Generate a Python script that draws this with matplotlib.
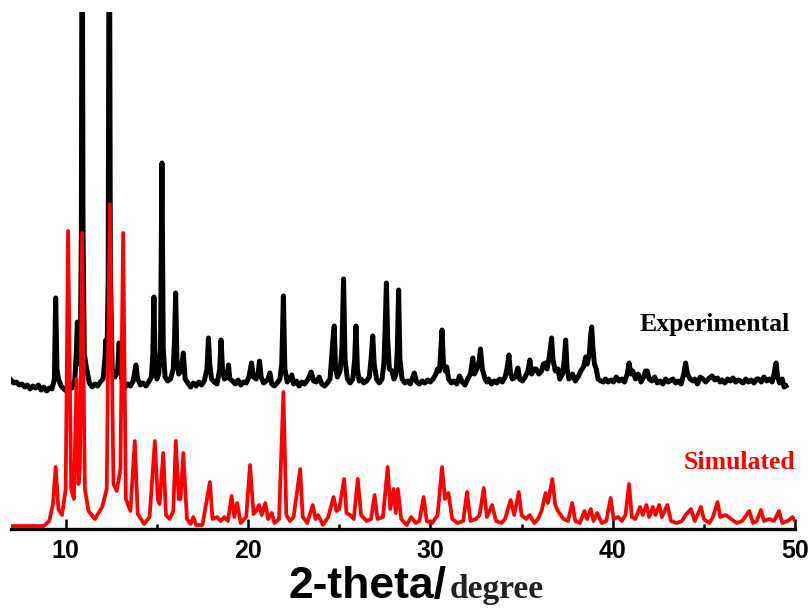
import numpy as np
import matplotlib.pyplot as plt
from matplotlib.ticker import MultipleLocator

# XRD pattern, experimental vs simulated
# intensities in arbitrary units (2-theta, counts)

exp_points = [
    (7.0, 149), (7.15, 146), (7.3, 147), (7.45, 144), (7.6, 145), (7.75, 142), (7.9, 144),
    (8.05, 140), (8.2, 143), (8.35, 141), (8.5, 144), (8.65, 139), (8.8, 142), (8.95, 138),
    (9.1, 141), (9.25, 140), (9.38, 150), (9.45, 231), (9.52, 160), (9.6, 150), (9.75, 143),
    (9.9, 140), (10.05, 138), (10.2, 143), (10.35, 141), (10.5, 150), (10.58, 175), (10.64, 207),
    (10.7, 165), (10.8, 170), (10.86, 300), (10.90, 700), (10.95, 300), (11.02, 175), (11.15, 160),
    (11.3, 146), (11.45, 142), (11.6, 145), (11.75, 143), (11.9, 147), (12.05, 150), (12.15, 170),
    (12.2, 189), (12.27, 175), (12.33, 250), (12.39, 700), (12.45, 260), (12.55, 160), (12.7, 152),
    (12.85, 158), (12.93, 186), (13.0, 160), (13.1, 148), (13.25, 142), (13.4, 145), (13.55, 143),
    (13.7, 148), (13.85, 164), (13.95, 150), (14.1, 144), (14.25, 146), (14.4, 143), (14.55, 147),
    (14.7, 152), (14.78, 175), (14.84, 232), (14.9, 170), (15.0, 150), (15.1, 155), (15.2, 180),
    (15.28, 366), (15.35, 180), (15.45, 152), (15.6, 148), (15.75, 150), (15.9, 160), (15.97, 190),
    (16.03, 236), (16.1, 170), (16.2, 155), (16.35, 160), (16.45, 176), (16.55, 150), (16.7, 146),
    (16.85, 142), (17.0, 146), (17.15, 143), (17.3, 147), (17.45, 144), (17.6, 148), (17.75, 160),
    (17.83, 191), (17.9, 165), (18.0, 150), (18.15, 147), (18.3, 145), (18.45, 160), (18.52, 189),
    (18.6, 160), (18.7, 150), (18.85, 152), (18.93, 164), (19.0, 150), (19.15, 148), (19.3, 145),
    (19.45, 149), (19.6, 144), (19.75, 147), (19.9, 146), (20.05, 152), (20.19, 166), (20.3, 152),
    (20.45, 150), (20.55, 155), (20.63, 168), (20.72, 152), (20.85, 146), (21.0, 148), (21.1, 150),
    (21.2, 156), (21.3, 145), (21.45, 143), (21.6, 146), (21.75, 150), (21.85, 165), (21.94, 233),
    (22.02, 160), (22.15, 147), (22.3, 150), (22.4, 154), (22.5, 145), (22.65, 148), (22.8, 143),
    (22.95, 147), (23.1, 145), (23.3, 150), (23.46, 157), (23.6, 148), (23.75, 147), (23.9, 152),
    (24.05, 145), (24.2, 143), (24.35, 146), (24.5, 150), (24.6, 175), (24.68, 195), (24.73, 203),
    (24.8, 160), (24.9, 152), (25.05, 158), (25.15, 180), (25.24, 250), (25.32, 170), (25.45, 150),
    (25.6, 146), (25.75, 150), (25.85, 170), (25.92, 203), (26.0, 160), (26.1, 148), (26.2, 150),
    (26.35, 146), (26.5, 148), (26.65, 152), (26.75, 170), (26.84, 193), (26.92, 165), (27.05, 150),
    (27.2, 146), (27.35, 150), (27.45, 165), (27.52, 200), (27.59, 246), (27.66, 190), (27.75, 160),
    (27.9, 158), (28.0, 150), (28.12, 155), (28.19, 180), (28.26, 239), (28.33, 170), (28.45, 150),
    (28.6, 146), (28.75, 148), (28.9, 145), (29.0, 150), (29.12, 156), (29.25, 147), (29.4, 145),
    (29.55, 148), (29.7, 146), (29.85, 149), (30.0, 147), (30.15, 150), (30.3, 155), (30.4, 160),
    (30.5, 158), (30.58, 180), (30.64, 199), (30.72, 165), (30.82, 158), (30.9, 162), (31.0, 150),
    (31.15, 146), (31.3, 148), (31.45, 145), (31.6, 153), (31.75, 147), (31.9, 144), (32.05, 150),
    (32.2, 155), (32.33, 171), (32.42, 155), (32.55, 160), (32.68, 168), (32.75, 180), (32.85, 160),
    (33.0, 150), (33.1, 147), (33.2, 150), (33.35, 145), (33.5, 148), (33.65, 146), (33.8, 150),
    (33.95, 147), (34.1, 152), (34.2, 160), (34.31, 174), (34.4, 155), (34.5, 150), (34.65, 152),
    (34.8, 161), (34.9, 150), (35.05, 148), (35.2, 152), (35.35, 158), (35.46, 169), (35.55, 155),
    (35.7, 160), (35.8, 160), (35.95, 155), (36.1, 158), (36.2, 165), (36.3, 166), (36.4, 160),
    (36.5, 170), (36.58, 180), (36.65, 191), (36.72, 170), (36.85, 158), (37.0, 160), (37.1, 150),
    (37.25, 155), (37.35, 170), (37.42, 189), (37.5, 160), (37.6, 150), (37.7, 152), (37.8, 155),
    (37.95, 148), (38.1, 152), (38.25, 158), (38.4, 162), (38.52, 172), (38.6, 165), (38.72, 175),
    (38.8, 195), (38.85, 202), (38.92, 180), (39.0, 165), (39.1, 160), (39.2, 150), (39.35, 148),
    (39.5, 147), (39.6, 150), (39.75, 147), (39.9, 149), (40.05, 147), (40.2, 152), (40.35, 148),
    (40.5, 150), (40.65, 147), (40.8, 155), (40.9, 166), (41.0, 155), (41.1, 158), (41.25, 150),
    (41.4, 155), (41.55, 147), (41.7, 152), (41.8, 158), (41.9, 158), (42.0, 150), (42.15, 148),
    (42.3, 152), (42.45, 146), (42.6, 148), (42.75, 145), (42.9, 150), (43.05, 147), (43.2, 149),
    (43.3, 150), (43.45, 146), (43.6, 148), (43.75, 145), (43.9, 155), (44.0, 166), (44.1, 155),
    (44.25, 150), (44.4, 148), (44.5, 150), (44.65, 145), (44.8, 152), (44.95, 150), (45.1, 147),
    (45.3, 151), (45.45, 153), (45.6, 149), (45.75, 151), (45.9, 147), (46.0, 149), (46.15, 146),
    (46.3, 150), (46.45, 148), (46.6, 151), (46.75, 147), (46.9, 149), (47.0, 148), (47.15, 146),
    (47.3, 150), (47.45, 147), (47.6, 149), (47.75, 146), (47.9, 150), (48.0, 150), (48.15, 147),
    (48.3, 152), (48.45, 148), (48.6, 150), (48.75, 147), (48.85, 155), (48.96, 166), (49.05, 152),
    (49.15, 146), (49.3, 150), (49.4, 142), (49.5, 143),
]

sim_points = [
    (7.0, 3), (8.8, 3), (9.1, 8), (9.3, 25), (9.45, 62), (9.6, 20), (9.8, 14), (10.0, 40),
    (10.13, 298), (10.3, 40), (10.45, 30), (10.59, 150), (10.7, 45), (10.78, 60), (10.90, 296),
    (11.05, 40), (11.25, 18), (11.6, 10), (12.0, 22), (12.25, 40), (12.42, 325), (12.62, 45),
    (12.8, 38), (13.0, 60), (13.15, 296), (13.3, 30), (13.55, 18), (13.79, 88), (13.95, 15),
    (14.3, 5), (14.6, 12), (14.89, 88), (15.05, 30), (15.15, 25), (15.35, 76), (15.5, 14),
    (15.7, 10), (15.9, 18), (16.04, 88), (16.2, 30), (16.3, 30), (16.45, 76), (16.65, 10),
    (16.85, 5), (17.0, 12), (17.15, 4), (17.5, 4), (17.91, 47), (18.05, 10), (18.3, 12),
    (18.5, 8), (18.7, 12), (18.9, 8), (19.1, 33), (19.25, 12), (19.4, 26), (19.6, 6),
    (19.9, 12), (20.11, 64), (20.3, 15), (20.45, 18), (20.6, 24), (20.75, 14), (20.95, 26),
    (21.1, 10), (21.3, 16), (21.45, 6), (21.7, 10), (21.94, 137), (22.1, 14), (22.3, 8),
    (22.5, 12), (22.86, 60), (23.0, 12), (23.25, 6), (23.55, 24), (23.7, 10), (23.85, 14),
    (24.1, 4), (24.4, 12), (24.69, 32), (24.85, 18), (25.0, 20), (25.27, 50), (25.4, 16),
    (25.6, 14), (25.8, 10), (26.02, 50), (26.2, 14), (26.5, 8), (26.75, 10), (26.94, 34),
    (27.1, 10), (27.4, 12), (27.66, 62), (27.8, 20), (27.99, 40), (28.1, 16), (28.22, 40),
    (28.4, 10), (28.7, 4), (28.95, 12), (29.2, 6), (29.4, 8), (29.63, 32), (29.8, 8),
    (30.1, 6), (30.4, 14), (30.64, 62), (30.8, 30), (30.99, 36), (31.2, 10), (31.5, 6),
    (31.8, 8), (32.01, 37), (32.2, 8), (32.5, 10), (32.7, 14), (32.93, 41), (33.1, 12),
    (33.39, 24), (33.6, 8), (33.9, 6), (34.1, 10), (34.40, 29), (34.6, 14), (34.85, 37),
    (35.0, 14), (35.25, 10), (35.45, 14), (35.7, 6), (35.9, 10), (36.1, 18), (36.32, 36),
    (36.45, 26), (36.69, 50), (36.85, 24), (37.0, 18), (37.3, 10), (37.55, 8), (37.78, 26),
    (37.95, 8), (38.2, 6), (38.45, 18), (38.6, 10), (38.8, 20), (38.95, 8), (39.15, 16),
    (39.4, 6), (39.65, 8), (39.89, 31), (40.05, 10), (40.3, 12), (40.5, 8), (40.7, 14),
    (40.90, 45), (41.05, 12), (41.25, 10), (41.5, 22), (41.65, 14), (41.85, 24), (42.0, 12),
    (42.2, 22), (42.35, 14), (42.55, 24), (42.7, 12), (43.0, 24), (43.2, 8), (43.5, 6),
    (43.8, 8), (44.0, 14), (44.29, 20), (44.5, 8), (44.84, 22), (45.0, 10), (45.3, 6),
    (45.5, 12), (45.75, 27), (45.9, 12), (46.2, 14), (46.5, 10), (46.8, 6), (47.1, 8),
    (47.49, 18), (47.7, 6), (47.9, 8), (48.13, 19), (48.3, 8), (48.6, 10), (48.85, 8),
    (49.12, 18), (49.3, 6), (49.6, 8), (49.87, 12), (50.0, 8),
]

xticks = [10, 20, 30, 40, 50]

exp_x, exp_y = np.array(exp_points).T
sim_x, sim_y = np.array(sim_points).T

fig = plt.figure(figsize=(8.1, 6.1), dpi=100)
ax = fig.add_axes([11/810, 1 - 529/610, 784/810, 517/610])

ax.plot(exp_x, exp_y, color='black', lw=3.6, solid_joinstyle='round')
ax.plot(sim_x, sim_y, color='#ff0000', lw=2.7, solid_joinstyle='round')

ax.set_xlim(7, 50)
ax.set_ylim(0, 517)

for s in ['top', 'left', 'right']:
    ax.spines[s].set_visible(False)
ax.spines['bottom'].set_linewidth(2.4)
ax.set_yticks([])
ax.set_xticks(xticks)
ax.xaxis.set_minor_locator(MultipleLocator(5))
ax.tick_params(axis='x', which='major', direction='in', length=7, width=1.8, pad=7)
ax.tick_params(axis='x', which='minor', direction='in', length=3.5, width=1.8)
for lab in ax.get_xticklabels():
    lab.set_fontfamily('Liberation Sans')
    lab.set_fontweight('bold')
    lab.set_fontsize(18)

ax.text(49.72, 198, 'Experimental', ha='right', va='baseline', color='black',
        fontsize=18.5, fontweight='bold', family='Liberation Serif')
ax.text(50.0, 60, 'Simulated', ha='right', va='baseline', color='#ff0000',
        fontsize=18.5, fontweight='bold', family='Liberation Serif')

fig.text(447/810, 1 - 598/610, '2-theta/', ha='right', va='baseline',
         fontsize=32, fontweight='bold', family='Liberation Sans')
fig.text(450/810, 1 - 598/610, 'degree', ha='left', va='baseline',
         fontsize=24, fontweight='bold', family='Liberation Serif', color='#222222')

fig.savefig('out.png', dpi=100)
